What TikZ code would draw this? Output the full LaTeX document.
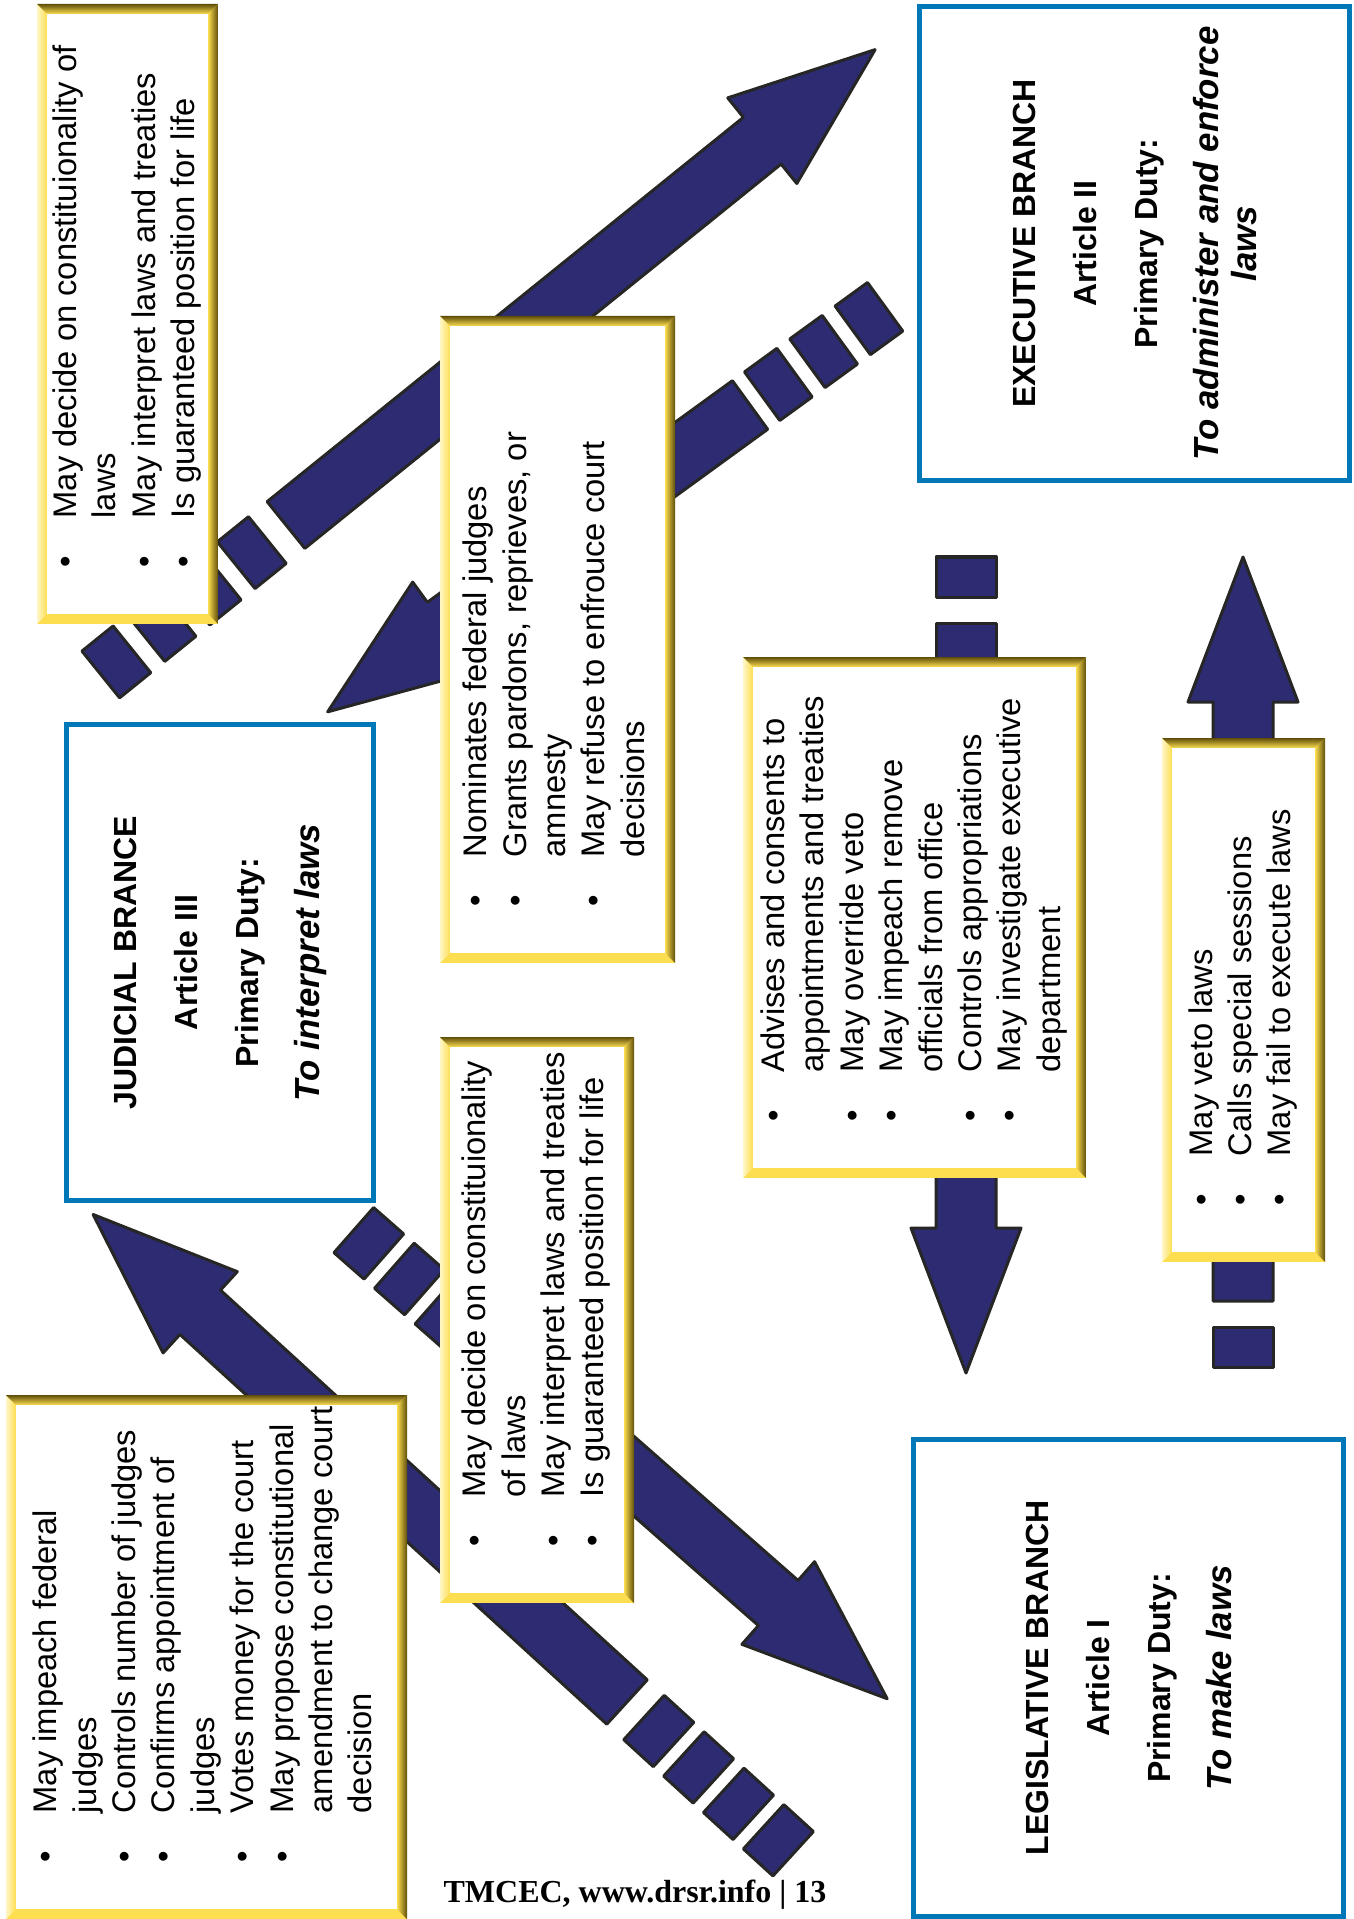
\documentclass[tikz,border=0pt]{standalone}
\usepackage{fontspec}
\setmainfont{Liberation Sans}
\newfontfamily\footfont{Liberation Serif}
\usepackage{array}
\usetikzlibrary{calc}

\definecolor{arrownavy}{RGB}{45,44,114}
\definecolor{branchblue}{RGB}{0,120,183}
\definecolor{framegold}{RGB}{253,222,80}
\definecolor{framedark}{RGB}{95,78,10}
\definecolor{framepale}{RGB}{255,246,200}

\newcommand\powerfont{\fontsize{9.3}{11.2}\selectfont}
\newcommand\branchfont{\bfseries\fontsize{9.1}{10.8}\selectfont}
\newcommand\bul{\textbullet}
\newcommand\dutygap{\\[0.23cm]}
\newcommand\dutyline[1]{{\itshape\fontsize{9.9}{11.6}\selectfont #1}}

% yellow bevelled frame: left, top, right, bottom
\newcommand\goldframe[4]{%
  \fill[framegold] (#1,#2) rectangle (#3,#4);
  \shade[left color=framepale, right color=framegold] (#1,#2) -- (#1+10,#2+10) -- (#1+10,#4-10) -- (#1,#4) -- cycle;
  \shade[top color=framedark, bottom color=framegold] (#1,#2) -- (#3,#2) -- (#3-10,#2+10) -- (#1+10,#2+10) -- cycle;
  \shade[left color=framegold, right color=framedark] (#3,#2) -- (#3,#4) -- (#3-10,#4-10) -- (#3-10,#2+10) -- cycle;
  \fill[white] (#1+10,#2+10) rectangle (#3-10,#4-10);
}

% block arrow: tail, angle, length, dashes, first dash, dash period
\newcommand\navyarrow[6]{%
  \begin{scope}[shift={(#1)}, rotate=#2]
    \foreach \k in {1,...,#4}{
      \pgfmathsetmacro\dc{-(#5)-(\k-1)*(#6)}
      \draw[arrowbody] (\dc-20,-30) -- (\dc+20,-30) -- (\dc+20,30) -- (\dc-20,30) -- cycle;
    }
    \draw[arrowbody] (0,-30) -- (#3-145,-30) -- (#3-145,-55) -- (#3,0) -- (#3-145,55) -- (#3-145,30) -- (0,30) -- cycle;
  \end{scope}}

\begin{document}
\begin{tikzpicture}[x=0.01cm, y=-0.01cm,
    arrowbody/.style={fill=arrownavy, draw=black!85, line width=0.03cm, line join=round},
    powertext/.style={rotate=90, anchor=west, inner sep=0pt, font=\powerfont},
    branchbox/.style={draw=branchblue, line width=0.05cm, fill=white, rotate=90, align=center, font=\branchfont},
    footer/.style={anchor=base, inner sep=0pt, font=\footfont\bfseries\fontsize{9.1}{11}\selectfont}]
	\useasboundingbox (0,0) rectangle (1353,1919);

	% arrow tails
	\coordinate (jeTail) at (286,525);
	\coordinate (ejTail) at (750,405);
	\coordinate (ljTail) at (627,1702);
	\coordinate (jlTail) at (480,1341);
	\coordinate (elTail) at (966,683);
	\coordinate (leTail) at (1243,1301);

	\navyarrow{jeTail}{38.9}{757}{4}{44}{58}
	\navyarrow{ejTail}{216}{522}{3}{35}{56}
	\navyarrow{ljTail}{137.6}{723}{4}{43}{54}
	\navyarrow{jlTail}{-41.3}{542}{3}{40}{54}
	\navyarrow{elTail}{-90}{690}{2}{40}{66}
	\navyarrow{leTail}{90}{744}{1}{46}{60}

	% branches
	\node[branchbox, minimum width=4.74cm, minimum height=4.30cm] (executive) at (1134.5,243.5)
		{EXECUTIVE BRANCH\dutygap Article II\dutygap Primary Duty:\dutygap \dutyline{To administer and enforce}\\\dutyline{laws}};
	\node[branchbox, minimum width=4.76cm, minimum height=3.07cm] (judicial) at (220,962.5)
		{JUDICIAL BRANCE\dutygap Article III\dutygap Primary Duty:\dutygap \dutyline{To interpret laws}};
	\node[branchbox, minimum width=4.77cm, minimum height=4.30cm] (legislative) at (1128.5,1678)
		{LEGISLATIVE BRANCH\dutygap Article I\dutygap Primary Duty:\dutygap \dutyline{To make laws}};

	% checks
	\goldframe{37}{4}{218}{624}
	\node[powertext] (courtOnExec) at (127.5,568) {\begin{tabular}{@{}p{0.49cm}@{}l@{}}
		\bul & May decide on constituionality of\\
		& laws\\
		\bul & May interpret laws and treaties\\
		\bul & Is guaranteed position for life
	\end{tabular}};

	\goldframe{440}{316}{675}{963}
	\node[powertext] (execOnCourt) at (557.5,907) {\begin{tabular}{@{}p{0.49cm}@{}l@{}}
		\bul & Nominates federal judges\\
		\bul & Grants pardons, reprieves, or\\
		& amnesty\\
		\bul & May refuse to enfrouce court\\
		& decisions
	\end{tabular}};

	\goldframe{440}{1037}{634}{1603}
	\node[powertext] (courtOnCongress) at (537,1547) {\begin{tabular}{@{}p{0.49cm}@{}l@{}}
		\bul & May decide on constituionality\\
		& of laws\\
		\bul & May interpret laws and treaties\\
		\bul & Is guaranteed position for life
	\end{tabular}};

	\goldframe{6}{1395}{407}{1919}
	\node[powertext] (congressOnCourt) at (206.5,1863) {\begin{tabular}{@{}p{0.49cm}@{}l@{}}
		\bul & May impeach federal\\
		& judges\\
		\bul & Controls number of judges\\
		\bul & Confirms appointment of\\
		& judges\\
		\bul & Votes money for the court\\
		\bul & May propose constitutional\\
		& amendment to change court\\
		& decision
	\end{tabular}};

	\goldframe{743}{657}{1086}{1178}
	\node[powertext] (congressOnExec) at (914.5,1122) {\begin{tabular}{@{}p{0.49cm}@{}l@{}}
		\bul & Advises and consents to\\
		& appointments and treaties\\
		\bul & May override veto\\
		\bul & May impeach remove\\
		& officials from office\\
		\bul & Controls appropriations\\
		\bul & May investigate executive\\
		& department
	\end{tabular}};

	\goldframe{1162}{738}{1325}{1262}
	\node[powertext] (execOnCongress) at (1243.5,1206) {\begin{tabular}{@{}p{0.49cm}@{}l@{}}
		\bul & May veto laws\\
		\bul & Calls special sessions\\
		\bul & May fail to execute laws
	\end{tabular}};

	\node[footer] (pagefoot) at (635,1902) {TMCEC, www.drsr.info | 13};
\end{tikzpicture}
\end{document}
